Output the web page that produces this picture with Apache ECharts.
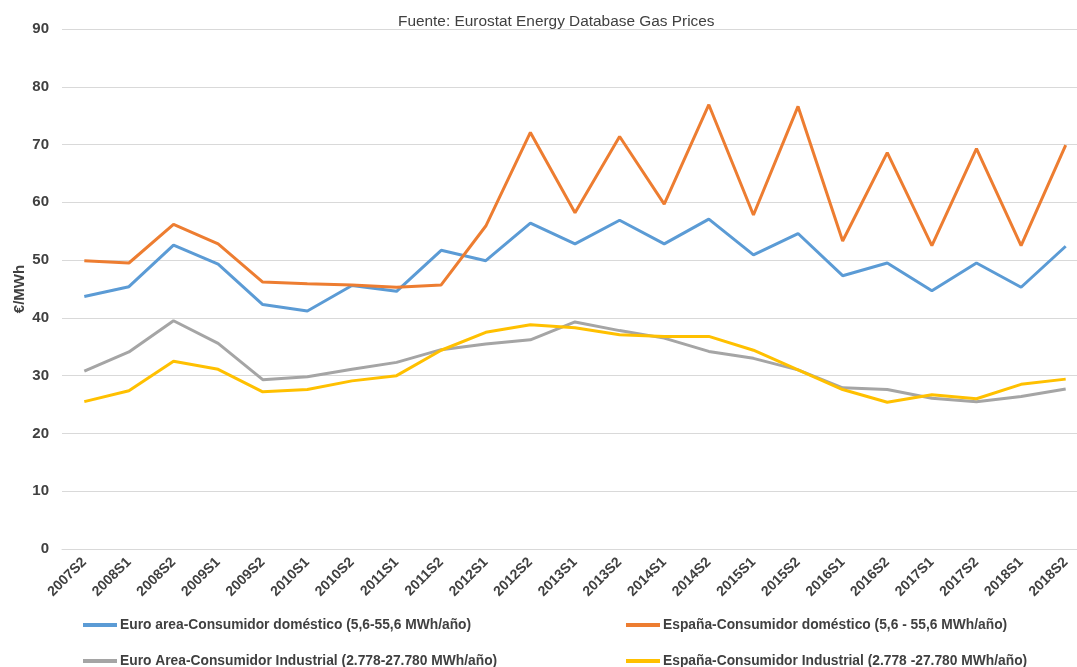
<!DOCTYPE html>
<html>
<head>
<meta charset="utf-8">
<script src="https://cdn.jsdelivr.net/npm/echarts@6/dist/echarts.min.js"></script>
<style>
html,body{margin:0;padding:0;background:#fff;}
#chart{width:1077px;height:667px;}
</style>
</head>
<body>
<div id="chart"></div>
<script>
const categories = ['2007S2','2008S1','2008S2','2009S1','2009S2','2010S1','2010S2','2011S1','2011S2','2012S1','2012S2','2013S1','2013S2','2014S1','2014S2','2015S1','2015S2','2016S1','2016S2','2017S1','2017S2','2018S1','2018S2'];
const euroDomestico = [43.7,45.4,52.6,49.3,42.3,41.2,45.6,44.6,51.7,49.9,56.4,52.8,56.9,52.8,57.1,50.9,54.6,47.3,49.5,44.7,49.5,45.3,52.4];
const espanaDomestico = [49.9,49.5,56.2,52.8,46.2,45.9,45.7,45.3,45.7,55.9,72.1,58.2,71.4,59.7,76.9,57.8,76.6,53.3,68.6,52.5,69.3,52.5,69.9];
const euroIndustrial = [30.8,34.1,39.5,35.6,29.3,29.8,31.1,32.3,34.5,35.5,36.2,39.3,37.8,36.5,34.2,33.0,31.0,27.9,27.6,26.1,25.5,26.4,27.7];
const espanaIndustrial = [25.5,27.4,32.5,31.1,27.2,27.6,29.1,30.0,34.4,37.5,38.8,38.3,37.1,36.8,36.8,34.4,31.0,27.6,25.4,26.7,26.0,28.5,29.4];
const seriesNames = [
  'Euro area-Consumidor doméstico (5,6-55,6 MWh/año)',
  'España-Consumidor doméstico (5,6 - 55,6 MWh/año)',
  'Euro Area-Consumidor Industrial (2.778-27.780 MWh/año)',
  'España-Consumidor Industrial (2.778 -27.780 MWh/año)'
];
const colors = ['#5B9BD5','#ED7D31','#A5A5A5','#FFC000'];
const dataSets = [euroDomestico, espanaDomestico, euroIndustrial, espanaIndustrial];

const font = 'Liberation Sans, Arial, sans-serif';
const textColor = '#404040';

function legendAt(name, left, top){
  return {
    data:[name], left:left, top:top, orient:'horizontal',
    icon:'rect', itemWidth:34, itemHeight:4, itemGap:0,
    textStyle:{fontFamily:font, fontSize:13.8, fontWeight:'bold', color:textColor, padding:[0,0,0,-2]},
    padding:0
  };
}

const chart = echarts.init(document.getElementById('chart'), null, {renderer:'canvas'});
chart.setOption({
  animation:false,
  backgroundColor:'#ffffff',
  title:{
    text:'Fuente: Eurostat Energy Database Gas Prices',
    left:393, top:9,
    textStyle:{fontFamily:font, fontSize:15.4, fontWeight:'normal', color:textColor}
  },
  legend:[
    legendAt(seriesNames[0], 83, 618),
    legendAt(seriesNames[1], 626, 618),
    legendAt(seriesNames[2], 83, 654),
    legendAt(seriesNames[3], 626, 654)
  ],
  grid:{left:62, right:-11, top:29, bottom:118, containLabel:false, outerBoundsMode:'none'},
  xAxis:{
    type:'category', data:categories, boundaryGap:true,
    axisLine:{show:true, lineStyle:{color:'#D9D9D9', width:1}},
    axisTick:{show:false},
    axisLabel:{interval:0, rotate:45, margin:11, fontFamily:font, fontSize:14, fontWeight:'bold', color:textColor}
  },
  yAxis:{
    type:'value', min:0, max:90, interval:10,
    name:'€/MWh', nameLocation:'middle', nameGap:35, nameRotate:90, nameMoveOverlap:false,
    nameTextStyle:{fontFamily:font, fontSize:15, fontWeight:'bold', color:textColor},
    axisLine:{show:false}, axisTick:{show:false},
    axisLabel:{margin:13, fontFamily:font, fontSize:15, fontWeight:'bold', color:textColor},
    splitLine:{lineStyle:{color:'#D9D9D9', width:1}}
  },
  series: dataSets.map((d,i)=>({
    name:seriesNames[i], type:'line', data:d, symbol:'none',
    lineStyle:{color:colors[i], width:3}, itemStyle:{color:colors[i]},
    z: i===3 ? 5 : 3
  }))
});
</script>
</body>
</html>
